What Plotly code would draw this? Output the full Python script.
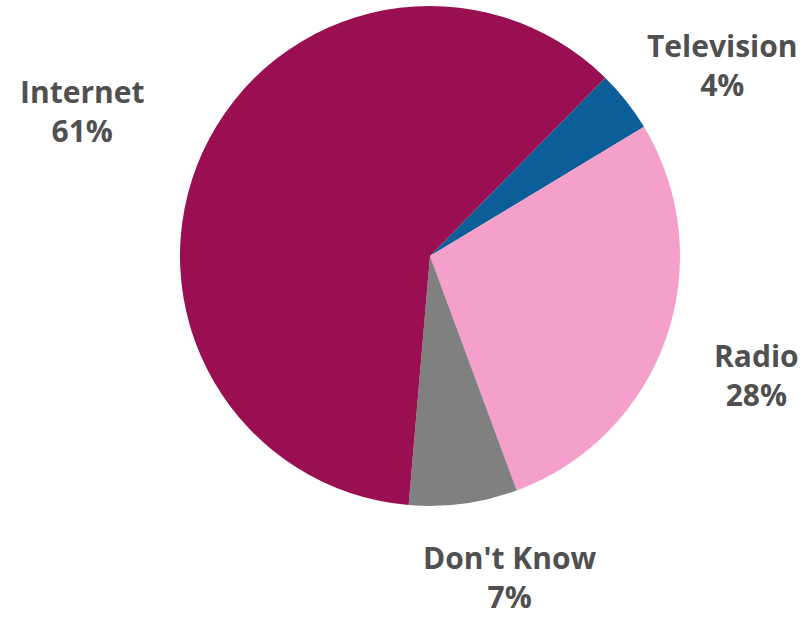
import plotly.graph_objects as go

# Share of respondents by information source
labels = ["Television", "Radio", "Don't Know", "Internet"]
values = [4, 28, 7, 61]
colors = ["#0B5E97", "#F5A0CB", "#808080", "#990F51"]

# Label anchor points (paper coordinates) and vertical anchors for each caption
label_x = [0.8925, 0.9357, 0.6304, 0.1014]
label_y = [0.8948, 0.3932, 0.0, 0.8204]
label_yanchor = ["middle", "middle", "bottom", "middle"]

W, H = 809, 618
cx, cy, r = 430, 256, 250

fig = go.Figure(
    go.Pie(
        labels=labels,
        values=values,
        sort=False,
        direction="clockwise",
        rotation=44.5,
        marker=dict(colors=colors, line=dict(width=0)),
        textinfo="none",
        hoverinfo="label+percent",
        domain=dict(
            x=[(cx - r) / W, (cx + r) / W],
            y=[1 - (cy + r) / H, 1 - (cy - r) / H],
        ),
    )
)

total = sum(values)
for lab, v, x, y, ya in zip(labels, values, label_x, label_y, label_yanchor):
    fig.add_annotation(
        x=x, y=y, xref="paper", yref="paper",
        text=f"<b>{lab}<br>{round(100 * v / total)}%</b>",
        showarrow=False, xanchor="center", yanchor=ya,
        align="center", borderpad=0,
        font=dict(family="Open Sans", size=30, color="#505050"),
    )

fig.update_layout(
    width=W, height=H,
    margin=dict(l=0, r=0, t=0, b=0),
    showlegend=False,
    paper_bgcolor="white",
    plot_bgcolor="white",
)

fig.write_html("out.html")
